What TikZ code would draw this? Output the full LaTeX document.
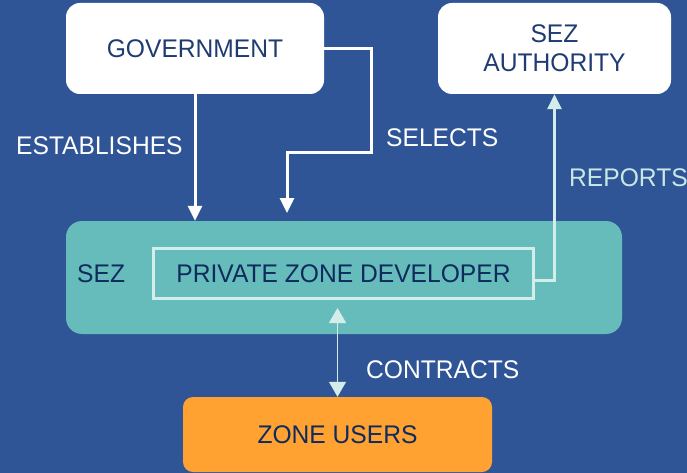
\documentclass[tikz,border=0pt]{standalone}
\usepackage{fontspec}
\setmainfont[FakeStretch=0.965]{Liberation Sans}
\usetikzlibrary{arrows.meta}
\definecolor{bgblue}{HTML}{2F5597}
\definecolor{teal}{HTML}{66BCBA}
\definecolor{lightc}{HTML}{D3EDEB}
\definecolor{repc}{HTML}{C8E8E6}
\definecolor{navy}{HTML}{1F3C72}
\definecolor{darknavy}{HTML}{0F2B5E}
\definecolor{orangec}{HTML}{FFA232}
\begin{document}
\begin{tikzpicture}[x=1pt,y=-1pt,
  every node/.style={font=\fontsize{25.5}{29}\selectfont, inner sep=0pt},
  whitebox/.style={fill=white, rounded corners=14pt, text=navy, align=center},
  lbl/.style={text=white, anchor=base west},
  wline/.style={draw=white, line width=3pt, -{Triangle[width=14pt,length=15pt]}},
  lline/.style={draw=lightc, line width=3pt, -{Triangle[width=14pt,length=15pt]}},
  cline/.style={draw=lightc, line width=1.5pt, {Triangle[width=17pt,length=15pt]}-{Triangle[width=17pt,length=15pt]}}
]
\fill[bgblue] (0,0) rectangle (687,473);
\useasboundingbox (0,0) rectangle (687,473);

\node[whitebox, minimum width=258pt, minimum height=91pt] (gov) at (195,48.5) {GOVERNMENT};
\node[whitebox, minimum width=233pt, minimum height=91pt] (auth) at (554.5,48.5) {SEZ\\AUTHORITY};
\node[fill=teal, rounded corners=16pt, minimum width=556pt, minimum height=113pt] (sez) at (344,277.5) {};
\node[text=darknavy, anchor=base west] (sezl) at (77,282) {SEZ};
\node[draw=lightc, line width=3pt, text=darknavy, minimum width=380pt, minimum height=50pt] (pzd) at (343.5,273.5) {PRIVATE ZONE DEVELOPER};
\node[fill=orangec, rounded corners=10pt, text=darknavy, minimum width=309pt, minimum height=75pt] (zu) at (337.5,434.5) {ZONE USERS};

% connectors
\draw[wline] (gov.south) -- (gov.south |- sez.north);
\coordinate (s1) at (371,48.5);
\coordinate (s2) at (371,153);
\coordinate (s3) at (287,153);
\coordinate (s4) at (287,213);
\draw[wline] (gov.east |- s1) -- (s1) -- (s2) -- (s3) -- (s4);
\draw[lline] ([yshift=-6.5pt]pzd.east) -| (auth.south);
\coordinate (c1) at ([yshift=-8pt]pzd.south -| zu.north);
\draw[cline] (c1) -- (zu.north);

% labels
\node[lbl] (lest) at (16,154) {ESTABLISHES};
\node[lbl] (lsel) at (386,147) {SELECTS};
\node[lbl, text=repc] (lrep) at (569,186) {REPORTS};
\node[lbl] (lcon) at (366,378) {CONTRACTS};
\end{tikzpicture}
\end{document}
